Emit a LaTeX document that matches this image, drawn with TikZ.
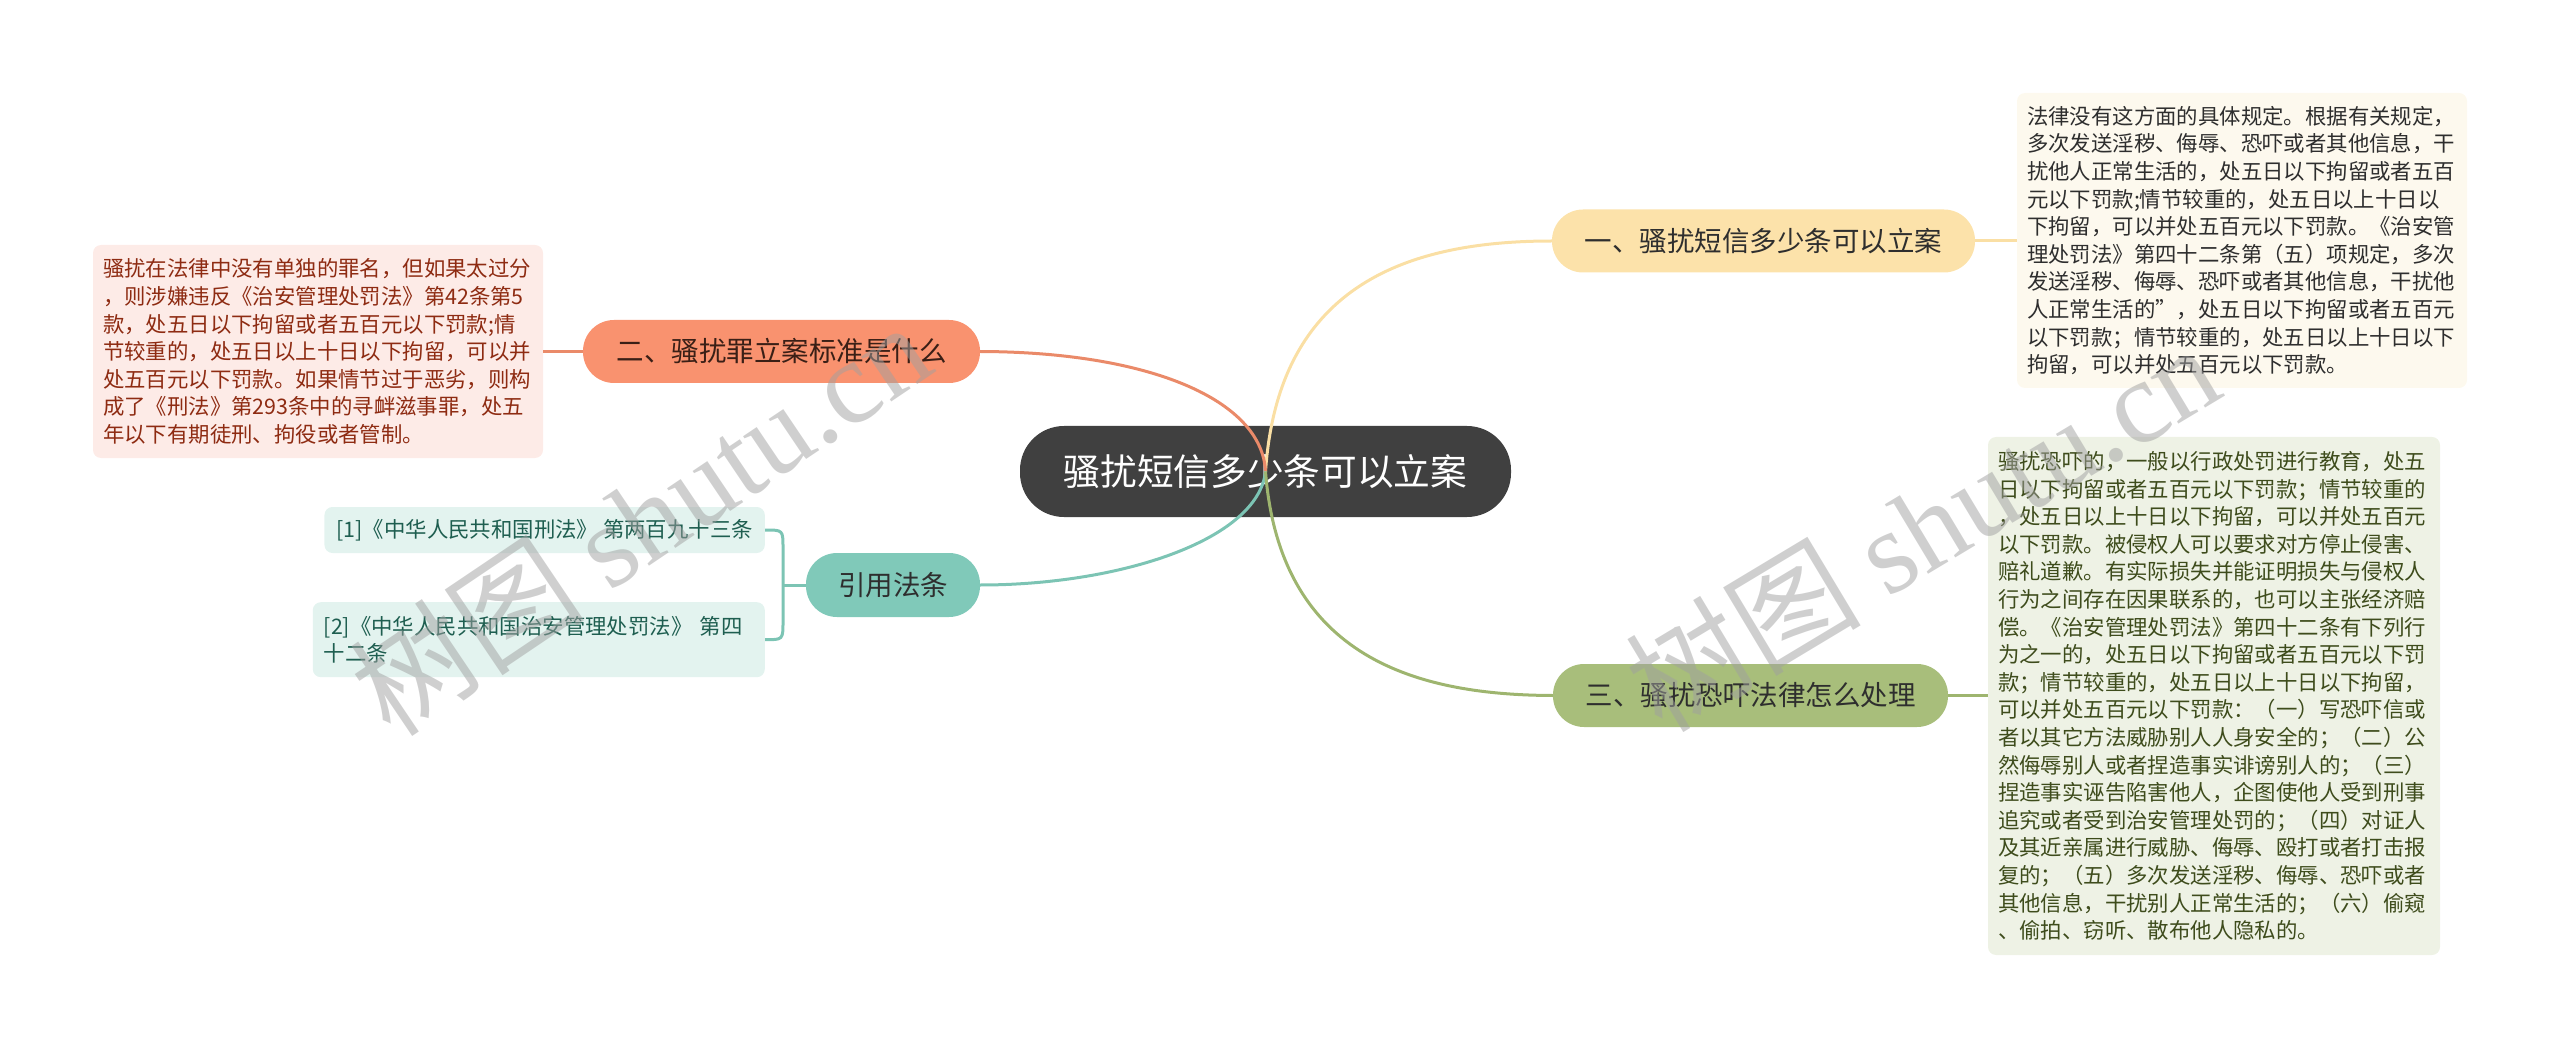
\documentclass[tikz,border=0pt]{standalone}
\usepackage{fontspec}
\setmainfont{Noto Sans CJK SC}
\newfontfamily\wmserif{Liberation Serif}
\usetikzlibrary{calc}
\definecolor{rootfill}{HTML}{404040}
\definecolor{yfill}{HTML}{FCE2AA}
\definecolor{yline}{HTML}{FADFA4}
\definecolor{ybox}{HTML}{FDF9EE}
\definecolor{ytext}{HTML}{2E2E2E}
\definecolor{ofill}{HTML}{F9926F}
\definecolor{oline}{HTML}{EA8A69}
\definecolor{obox}{HTML}{FDEBE7}
\definecolor{otext}{HTML}{8E2B12}
\definecolor{gfill}{HTML}{A8BE7B}
\definecolor{gline}{HTML}{9EB56F}
\definecolor{gbox}{HTML}{EEF2E5}
\definecolor{gtext}{HTML}{3E4C1C}
\definecolor{tfill}{HTML}{80C9B9}
\definecolor{tline}{HTML}{7CC4B4}
\definecolor{tbox}{HTML}{E3F3EF}
\definecolor{ttext}{HTML}{1E5E50}
\definecolor{wmcol}{HTML}{A0A0A0}
\begin{document}
\begin{tikzpicture}[x=1pt,y=-1pt,
  pill/.style={rounded corners=31pt, inner sep=0pt, minimum height=63pt,
    font=\fontsize{27.5}{32}\selectfont, text=ytext},
  textbox/.style={rounded corners=8pt, inner xsep=10pt, inner ysep=10pt,
    align=left, font=\fontsize{21.4}{27.6}\selectfont},
  conn/.style={line width=3pt}
]
\useasboundingbox (0,0) rectangle (2560,1048);

% central topic
\node[fill=rootfill, rounded corners=44pt, minimum width=491pt, minimum height=91pt,
  inner sep=0pt, text=white, font=\fontsize{36.7}{42}\selectfont] (root) at (1265.5,471.5) {骚扰短信多少条可以立案};

% main branches
\node[pill, fill=yfill, minimum width=423pt] (n1) at (1763.5,241) {一、骚扰短信多少条可以立案};
\node[pill, fill=ofill, minimum width=397pt, text={rgb,255:red,58;green,31;blue,22}] (n2) at (781.5,351.5) {二、骚扰罪立案标准是什么};
\node[pill, fill=gfill, minimum width=395pt] (n3) at (1750.5,695.5) {三、骚扰恐吓法律怎么处理};
\node[pill, fill=tfill, minimum width=174pt, minimum height=64pt] (cite) at (893,585) {引用法条};

% detail boxes
\node[textbox, fill=ybox, text=ytext, text width=430pt, minimum height=295pt] (d1) at (2242,240.5) {%
法律没有这方面的具体规定。根据有关规定，\\
多次发送淫秽、侮辱、恐吓或者其他信息，干\\
扰他人正常生活的，处五日以下拘留或者五百\\
元以下罚款;情节较重的，处五日以上十日以\\
下拘留，可以并处五百元以下罚款。《治安管\\
理处罚法》第四十二条第（五）项规定，多次\\
发送淫秽、侮辱、恐吓或者其他信息，干扰他\\
人正常生活的”，处五日以下拘留或者五百元\\
以下罚款；情节较重的，处五日以上十日以下\\
拘留，可以并处五百元以下罚款。};

\node[textbox, fill=gbox, text=gtext, text width=432pt, minimum height=518pt] (d3) at (2214,696) {%
骚扰恐吓的，一般以行政处罚进行教育，处五\\
日以下拘留或者五百元以下罚款；情节较重的\\
，处五日以上十日以下拘留，可以并处五百元\\
以下罚款。被侵权人可以要求对方停止侵害、\\
赔礼道歉。有实际损失并能证明损失与侵权人\\
行为之间存在因果联系的，也可以主张经济赔\\
偿。《治安管理处罚法》第四十二条有下列行\\
为之一的，处五日以下拘留或者五百元以下罚\\
款；情节较重的，处五日以上十日以下拘留，\\
可以并处五百元以下罚款：（一）写恐吓信或\\
者以其它方法威胁别人人身安全的；（二）公\\
然侮辱别人或者捏造事实诽谤别人的；（三）\\
捏造事实诬告陷害他人，企图使他人受到刑事\\
追究或者受到治安管理处罚的；（四）对证人\\
及其近亲属进行威胁、侮辱、殴打或者打击报\\
复的；（五）多次发送淫秽、侮辱、恐吓或者\\
其他信息，干扰别人正常生活的；（六）偷窥\\
、偷拍、窃听、散布他人隐私的。};

\node[textbox, fill=obox, text=otext, text width=430pt, minimum height=213pt] (d2) at (318,351.5) {%
骚扰在法律中没有单独的罪名，但如果太过分\\
，则涉嫌违反《治安管理处罚法》第42条第5\\
款，处五日以下拘留或者五百元以下罚款;情\\
节较重的，处五日以上十日以下拘留，可以并\\
处五百元以下罚款。如果情节过于恶劣，则构\\
成了《刑法》第293条中的寻衅滋事罪，处五\\
年以下有期徒刑、拘役或者管制。};

% citation boxes
\node[textbox, fill=tbox, text=ttext, anchor=east, inner xsep=12pt, minimum height=46pt] (r1) at (765,530) {[1]《中华人民共和国刑法》 第两百九十三条};
\node[textbox, fill=tbox, text=ttext, anchor=north east, inner xsep=11pt, text width=430pt, minimum height=75pt,
  font=\fontsize{21.4}{27}\selectfont] (r2) at (765,602) {[2]《中华人民共和国治安管理处罚法》 第四\\十二条};

% connectors from centre
\draw[conn, yline] (root.center) .. controls (1278,290) and (1400,241) .. (n1.west);
\draw[conn, oline] (root.center) .. controls (1262,400) and (1150,352) .. (n2.east);
\draw[conn, tline] (root.center) .. controls (1258,540) and (1120,585) .. (cite.east);
\draw[conn, gline] (root.center) .. controls (1280,660) and (1420,695) .. (n3.west);

% branch to detail
\draw[conn, yline] (n1.east) -- (d1.west |- n1.east);
\draw[conn, oline] (n2.west) -- (d2.east |- n2.west);
\draw[conn, gline] (n3.east) -- (d3.west |- n3.east);

% citation bracket
\coordinate (bx) at (783,585);
\draw[conn, tline] (r1.east) .. controls ([xshift=18pt]r1.east) .. ([xshift=18pt,yshift=-18pt]r1.east)
  -- ([xshift=18pt,yshift=18pt]r2.east) .. controls ([xshift=18pt]r2.east) .. (r2.east);
\draw[conn, tline] (bx) -- (cite.west);

% watermarks
\node[rotate=34, text=wmcol, opacity=0.5, font=\fontsize{118}{122}\selectfont] (wm1) at (640,518) {树图 {\wmserif shutu.cn}};
\node[rotate=31, text=wmcol, opacity=0.5, font=\fontsize{118}{122}\selectfont] (wm2) at (1922,526) {树图 {\wmserif shutu.cn}};
\end{tikzpicture}
\end{document}
